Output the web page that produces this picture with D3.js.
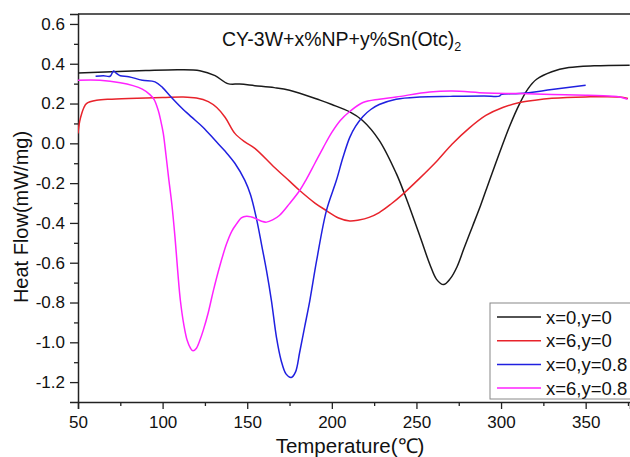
<!DOCTYPE html>
<html>
<head>
<meta charset="utf-8">
<script src="https://cdn.jsdelivr.net/npm/d3@7"></script>
<style>
  html, body { margin: 0; padding: 0; background: #fff; }
  svg { display: block; }
  text { font-family: Arial, "Liberation Sans", sans-serif; fill: #111; }
</style>
</head>
<body>
<svg id="chart" width="630" height="457"></svg>
<script>
// ---- data (temperature °C, heat flow mW/mg) ----
const seriesNames = ["x=0,y=0", "x=6,y=0", "x=0,y=0.8", "x=6,y=0.8"];
const seriesColors = ["#1a1a1a", "#e8232b", "#2020e0", "#ff22ff"];

const blackT = [50, 70, 90, 110, 122, 131, 138.5, 145.6, 154.5, 166, 175, 193, 200, 210.6, 218, 228, 238, 243, 248, 253, 258, 262, 266, 270, 274, 278, 283, 288, 293, 299, 305, 311, 316, 321, 330, 340, 355, 376];
const blackV = [0.354, 0.36, 0.366, 0.37, 0.365, 0.34, 0.30, 0.298, 0.29, 0.28, 0.267, 0.217, 0.195, 0.158, 0.116, 0.015, -0.15, -0.255, -0.37, -0.49, -0.61, -0.685, -0.71, -0.68, -0.62, -0.53, -0.42, -0.31, -0.19, -0.05, 0.085, 0.2, 0.275, 0.322, 0.36, 0.381, 0.39, 0.393];

const redT = [50, 51, 52.2, 53.5, 55, 61, 70, 85, 100, 112, 120, 127, 132, 137, 142.7, 148.6, 154.5, 166, 175, 181, 190, 196.8, 204, 210.6, 216, 222, 228, 235, 242, 252, 262, 271, 281, 291, 301, 311, 320, 330, 350, 370, 375];
const redV = [0.05, 0.11, 0.15, 0.18, 0.20, 0.216, 0.222, 0.227, 0.23, 0.233, 0.228, 0.21, 0.18, 0.13, 0.05, 0.007, -0.025, -0.12, -0.19, -0.237, -0.3, -0.338, -0.375, -0.39, -0.385, -0.372, -0.348, -0.305, -0.255, -0.175, -0.09, -0.005, 0.075, 0.14, 0.18, 0.205, 0.217, 0.226, 0.233, 0.233, 0.225];

const blueT = [60.4, 65, 69, 71, 73, 75, 80, 88, 95.5, 100, 105, 111, 117, 124, 131, 137, 142.7, 148.6, 152, 155.5, 158.5, 161.4, 164.3, 167.3, 170, 173, 176, 178.5, 181, 184, 187, 191, 196.8, 202.7, 206.6, 210.6, 214, 218.4, 223, 228, 238, 252, 270, 290, 299, 300, 311, 330, 350];
const blueV = [0.337, 0.34, 0.337, 0.364, 0.35, 0.34, 0.335, 0.317, 0.309, 0.28, 0.233, 0.18, 0.133, 0.08, 0.015, -0.04, -0.1, -0.186, -0.26, -0.38, -0.51, -0.64, -0.79, -0.976, -1.09, -1.16, -1.177, -1.15, -1.05, -0.92, -0.79, -0.59, -0.338, -0.186, -0.07, 0.03, 0.085, 0.135, 0.17, 0.195, 0.222, 0.233, 0.236, 0.238, 0.237, 0.245, 0.25, 0.27, 0.292];

const magT = [50, 63, 75, 82.5, 88, 92.5, 95, 97.4, 99, 100.4, 102, 103.5, 105.5, 107.3, 109, 110.5, 112.5, 114.5, 116.5, 118, 120, 122, 124, 127, 130, 134, 137.8, 141, 143.7, 146.5, 149.6, 152.5, 155.5, 158.5, 161.4, 165, 169, 175, 181, 185, 190, 195, 200, 205, 210.6, 218.4, 228, 238, 257.8, 271, 291, 311, 330, 350, 365.8, 370, 374.7];
const magV = [0.317, 0.317, 0.305, 0.29, 0.272, 0.245, 0.22, 0.166, 0.11, 0.05, -0.06, -0.17, -0.31, -0.47, -0.65, -0.79, -0.91, -0.99, -1.03, -1.043, -1.03, -0.99, -0.94, -0.85, -0.74, -0.61, -0.505, -0.44, -0.405, -0.375, -0.366, -0.37, -0.38, -0.392, -0.396, -0.385, -0.363, -0.303, -0.237, -0.18, -0.1, -0.02, 0.055, 0.115, 0.16, 0.205, 0.222, 0.233, 0.258, 0.263, 0.253, 0.25, 0.245, 0.242, 0.237, 0.233, 0.222];

const xTicks = [50, 100, 150, 200, 250, 300, 350];
const yTicks = [0.6, 0.4, 0.2, 0.0, -0.2, -0.4, -0.6, -0.8, -1.0, -1.2];
const xMinor = [75, 125, 175, 225, 275, 325, 375];
const yMinor = [0.5, 0.3, 0.1, -0.1, -0.3, -0.5, -0.7, -0.9, -1.1];

const titleMain = "CY-3W+x%NP+y%Sn(Otc)";
const titleSub = "2";
const xLabel = "Temperature(\u2103)";
const yLabel = "Heat Flow(mW/mg)";

// ---- layout ----
const L = 78, T = 14, B = 402, R = 640;
const svg = d3.select("#chart");

const x = d3.scaleLinear().domain([50, 376.2]).range([L, 630]);
const y = d3.scaleLinear().domain([-1.3, 0.65]).range([B, T]);

const series = [
  d3.zip(blackT, blackV),
  d3.zip(redT, redV),
  d3.zip(blueT, blueV),
  d3.zip(magT, magV)
];

svg.append("defs").append("clipPath").attr("id", "clip")
  .append("rect").attr("x", L).attr("y", T).attr("width", R - L).attr("height", B - T);

// frame top (right edge lies outside the picture)
svg.append("line").attr("x1", L).attr("x2", R).attr("y1", T).attr("y2", T)
  .attr("stroke", "#222").attr("stroke-width", 1.5);

// axes
const xAxis = svg.append("g").attr("transform", `translate(0,${B})`)
  .call(d3.axisBottom(x).tickValues(xTicks).tickSize(7).tickPadding(4).tickFormat(d3.format("d")));
svg.append("g").attr("transform", `translate(0,${B})`)
  .call(d3.axisBottom(x).tickValues(xMinor).tickSize(4).tickFormat(""))
  .call(g => g.select(".domain").remove());
const yAxis = svg.append("g").attr("transform", `translate(${L},0)`)
  .call(d3.axisLeft(y).tickValues(yTicks).tickSize(8).tickPadding(5).tickFormat(d3.format(".1f")));
svg.append("g").attr("transform", `translate(${L},0)`)
  .call(d3.axisLeft(y).tickValues(yMinor).tickSize(4).tickFormat(""))
  .call(g => g.select(".domain").remove());

svg.selectAll(".domain").attr("stroke", "#222").attr("stroke-width", 1.5);
svg.selectAll(".tick line").attr("stroke", "#222").attr("stroke-width", 1.3);
svg.selectAll(".tick text").attr("font-size", 17).attr("fill", "#111")
  .attr("font-family", "Arial, 'Liberation Sans', sans-serif");
xAxis.selectAll(".tick text").attr("dy", "0.88em");
yAxis.selectAll(".tick text").text(d => (d < 0 ? "-" : "") + Math.abs(d).toFixed(1));

// lines
const line = d3.line().x(d => x(d[0])).y(d => y(d[1])).curve(d3.curveCatmullRom.alpha(0.5));
const plot = svg.append("g").attr("clip-path", "url(#clip)");
series.forEach((s, i) => {
  plot.append("path").datum(s)
    .attr("fill", "none").attr("stroke", seriesColors[i])
    .attr("stroke-width", 1.5).attr("d", line);
});

// title
const title = svg.append("text").attr("x", 222).attr("y", 46).attr("font-size", 19.5);
title.append("tspan").text(titleMain);
title.append("tspan").attr("font-size", 12.5).attr("dy", 5).text(titleSub);

// axis labels
svg.append("text").attr("x", 350).attr("y", 453).attr("text-anchor", "middle")
  .attr("font-size", 20.5).text(xLabel);
svg.append("text").attr("transform", "translate(28,217) rotate(-90)")
  .attr("text-anchor", "middle").attr("font-size", 20).text(yLabel);

// legend
const lg = svg.append("g");
lg.append("rect").attr("x", 490).attr("y", 303).attr("width", 150).attr("height", 96)
  .attr("fill", "#fff").attr("stroke", "#888").attr("stroke-width", 1);
seriesNames.forEach((n, i) => {
  const yy = 317 + i * 23.7;
  lg.append("line").attr("x1", 497).attr("x2", 541).attr("y1", yy).attr("y2", yy)
    .attr("stroke", seriesColors[i]).attr("stroke-width", 1.5);
  lg.append("text").attr("x", 546).attr("y", yy + 6.5).attr("font-size", 18.5).text(n);
});
</script>
</body>
</html>
